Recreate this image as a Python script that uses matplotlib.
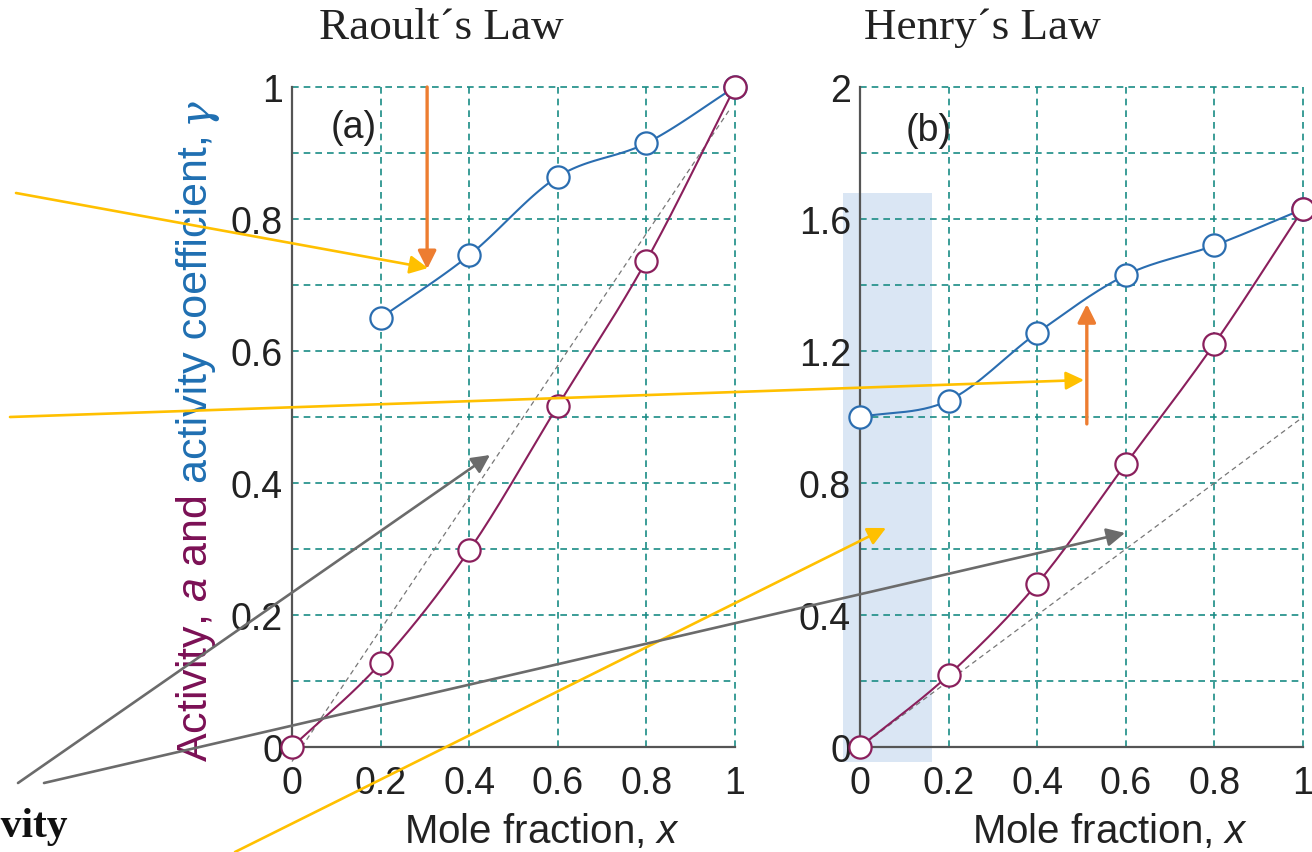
import numpy as np
import matplotlib.pyplot as plt
from matplotlib.patches import Rectangle

W, H = 1312, 853

# x positions and tick labels
x_pts = [0, 0.2, 0.4, 0.6, 0.8, 1.0]
xtick_labels = ['0', '0.2', '0.4', '0.6', '0.8', '1']

# (a) Raoult's law
raoult_gamma_x = [0.2, 0.4, 0.6, 0.8, 1.0]
raoult_gamma = [0.65, 0.745, 0.864, 0.915, 1.0]
raoult_activity = [0.0, 0.127, 0.298, 0.517, 0.737, 1.0]
raoult_ideal_x = [0.0, 0.99]
raoult_ideal_y = [-0.022, 0.968]
raoult_yticks = [0, 0.2, 0.4, 0.6, 0.8, 1.0]
raoult_ylabels = ['0', '0.2', '0.4', '0.6', '0.8', '1']

# (b) Henry's law
henry_gamma = [1.0, 1.05, 1.255, 1.43, 1.52, 1.63]
henry_activity = [0.0, 0.218, 0.495, 0.858, 1.222, 1.63]
henry_ideal_x = [0.0, 1.0]
henry_ideal_y = [0.0, 1.0]
henry_yticks = [0, 0.4, 0.8, 1.2, 1.6, 2.0]
henry_ylabels = ['0', '0.4', '0.8', '1.2', '1.6', '2']

teal = '#1a8c85'
blue = '#2a6db0'
purple = '#8a1f5c'
orange = '#ED7D31'
yellow = '#FFC000'
grey = '#6b6b6b'

plt.rcParams['font.family'] = ['Liberation Sans', 'DejaVu Sans']
plt.rcParams['mathtext.fontset'] = 'custom'
plt.rcParams['mathtext.rm'] = 'Liberation Sans'
plt.rcParams['mathtext.it'] = 'Liberation Sans:italic'


def smooth(x, y, n=30):
    # Catmull-Rom curve through the given points (only for drawing the line)
    x = np.asarray(x, float)
    y = np.asarray(y, float)
    px = np.concatenate([[2 * x[0] - x[1]], x, [2 * x[-1] - x[-2]]])
    py = np.concatenate([[2 * y[0] - y[1]], y, [2 * y[-1] - y[-2]]])
    t = np.linspace(0, 1, n)
    ox, oy = [], []
    for i in range(1, len(px) - 2):
        for p, out in ((px, ox), (py, oy)):
            p0, p1, p2, p3 = p[i - 1], p[i], p[i + 1], p[i + 2]
            out.append(0.5 * (2 * p1 + (-p0 + p2) * t
                              + (2 * p0 - 5 * p1 + 4 * p2 - p3) * t ** 2
                              + (-p0 + 3 * p1 - 3 * p2 + p3) * t ** 3))
    return np.concatenate(ox), np.concatenate(oy)


def setup(ax, ymax, yticks, ylabels, yminor):
    ax.set_xlim(0, 1)
    ax.set_ylim(0, ymax)
    ax.set_xticks(x_pts, xtick_labels)
    ax.set_yticks(yticks, ylabels)
    ax.set_yticks(yminor, minor=True)
    ax.xaxis.grid(True, which='major', color=teal, ls=(0, (4, 3)), lw=1.2)
    ax.yaxis.grid(True, which='both', color=teal, ls=(0, (4, 3)), lw=1.2)
    for ln in ax.get_xgridlines() + ax.get_ygridlines():
        ln.set_clip_on(False)
    ax.tick_params(which='both', length=0, labelsize=27, colors='#222222')
    ax.tick_params(axis='y', pad=6.5)
    ax.tick_params(axis='x', pad=13)
    for s in ['top', 'right']:
        ax.spines[s].set_visible(False)
    for s in ['left', 'bottom']:
        ax.spines[s].set_color('#555555')
        ax.spines[s].set_linewidth(1.6)


def curve(ax, x, y, color):
    sx, sy = smooth(x, y)
    ax.plot(sx, sy, color=color, lw=1.5, zorder=3, clip_on=False)
    ax.plot(x, y, 'o', ms=16, mfc='white', mec=color, mew=1.6, zorder=4, clip_on=False)


fig = plt.figure(figsize=(W / 100, H / 100), dpi=100)
ax1 = fig.add_axes([292 / W, 1 - 748 / H, 443 / W, 660 / H])
ax2 = fig.add_axes([860 / W, 1 - 748 / H, 443 / W, 660 / H])

setup(ax1, 1.0, raoult_yticks, raoult_ylabels, np.arange(0.1, 1.0, 0.2))
setup(ax2, 2.0, henry_yticks, henry_ylabels, np.arange(0.2, 2.0, 0.4))

# (a)
ax1.plot(raoult_ideal_x, raoult_ideal_y, color='#777777', lw=0.9, ls=(0, (4, 3)), zorder=2, clip_on=False)
curve(ax1, raoult_gamma_x, raoult_gamma, blue)
curve(ax1, x_pts, raoult_activity, purple)
ax1.text(0.14, 0.94, '(a)', fontsize=27, ha='center', va='center', color='#222222')

# (b)
ax2.add_patch(Rectangle((-0.038, -0.045), 0.201, 1.725, facecolor='#dae6f4', lw=0,
                        zorder=0.5, clip_on=False))
ax2.plot(henry_ideal_x, henry_ideal_y, color='#777777', lw=0.9, ls=(0, (4, 3)), zorder=2)
curve(ax2, x_pts, henry_gamma, blue)
curve(ax2, x_pts, henry_activity, purple)
ax2.text(0.154, 1.87, '(b)', fontsize=27, ha='center', va='center', color='#222222')

# orange arrows inside the panels
aprops = dict(arrowstyle='-|>,head_length=1.1,head_width=0.55', mutation_scale=10,
              lw=2.4, color=orange, shrinkA=0, shrinkB=0)
ax1.annotate('', xy=(0.305, 0.724), xytext=(0.305, 1.0), arrowprops=aprops, annotation_clip=False)
ax2.annotate('', xy=(0.512, 1.342), xytext=(0.512, 0.979), arrowprops=aprops, annotation_clip=False)

# titles and axis labels
fig.text(441 / W, 1 - 39 / H, 'Raoult\u00b4s Law', family='Liberation Serif', fontsize=32.5,
         ha='center', va='baseline', color='#222222')
fig.text(982 / W, 1 - 39 / H, 'Henry\u00b4s Law', family='Liberation Serif', fontsize=32.5,
         ha='center', va='baseline', color='#222222')
for cx in (542, 1110):
    fig.text(cx / W, 1 - 843 / H, 'Mole fraction, $x$', fontsize=29, ha='center',
             va='baseline', color='#222222')

# two-coloured y label, built from consecutive rotated pieces
rend = fig.canvas.get_renderer()
ylab_x = 207 / W
t1 = fig.text(ylab_x, 1 - 762 / H, 'Activity, $a$ and', rotation=90, rotation_mode='anchor',
              ha='left', va='baseline', color='#7b1055', fontsize=31)
y1 = t1.get_window_extent(renderer=rend).y1
t2 = fig.text(ylab_x, (y1 + 12) / H, 'activity coefficient,', rotation=90,
              rotation_mode='anchor', ha='left', va='baseline', color='#1f6fb2', fontsize=31)
y2 = t2.get_window_extent(renderer=rend).y1
fig.text(ylab_x, (y2 + 11) / H, '\u03b3', rotation=90, rotation_mode='anchor', ha='left',
         va='baseline', color='#1f6fb2', fontsize=31, family='DejaVu Serif', style='italic')

# overlay with the pointer arrows (image pixel coordinates)
ov = fig.add_axes([0, 0, 1, 1], zorder=10)
ov.set_xlim(0, W)
ov.set_ylim(H, 0)
ov.axis('off')

pointers = [
    ((16, 194), (428, 269), yellow),
    ((10, 418), (1084, 381), yellow),
    ((235, 853), (886, 529), yellow),
    ((18, 784), (490, 456), grey),
    ((44, 784), (1125, 534), grey),
]
for start, tip, col in pointers:
    ov.annotate('', xy=tip, xytext=start,
                arrowprops=dict(arrowstyle='-|>,head_length=1.1,head_width=0.55',
                                mutation_scale=10, lw=1.9, color=col, shrinkA=0, shrinkB=0),
                annotation_clip=False)

# partly visible word at the left edge, as in the source slide
ov.text(68, 837, 'Activity', family='Liberation Serif', fontweight='bold', fontsize=30,
        ha='right', va='baseline', color='#111111')

fig.savefig('out.png', dpi=100)
